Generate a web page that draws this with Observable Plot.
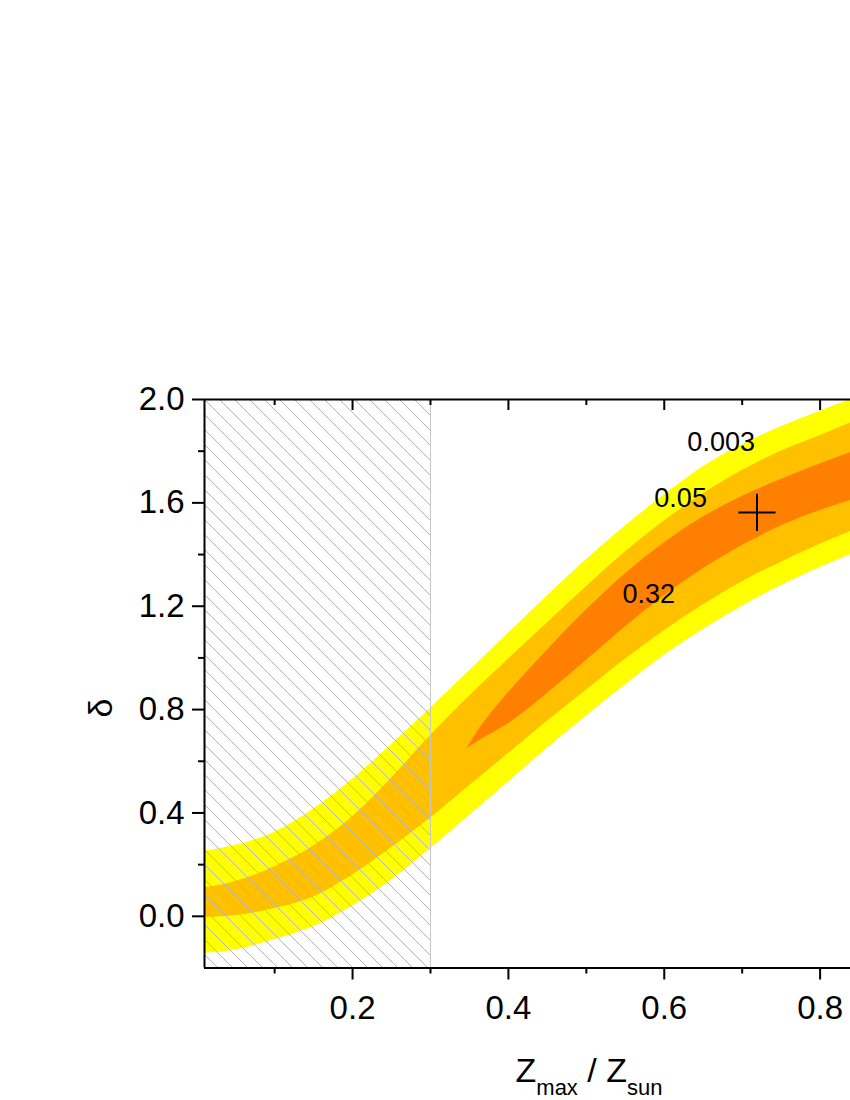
<!DOCTYPE html>
<html><head><meta charset="utf-8">
<script src="https://cdn.jsdelivr.net/npm/d3@7"></script>
<script src="https://cdn.jsdelivr.net/npm/@observablehq/plot@0.6"></script>
<style>
body{margin:0;background:#fff;overflow:hidden}
svg{display:block}
</style>
</head><body><div id="chart"></div>
<script>
// ---- axes ----
const xDomain = [0.01, 0.839];
const yDomain = [-0.2, 2.0];
const xMajorTicks = [0.2, 0.4, 0.6, 0.8];
const xMinorTicks = [0.1, 0.3, 0.5, 0.7];
const yMajorTicks = [0.0, 0.4, 0.8, 1.2, 1.6, 2.0];
const yMinorTicks = [0.2, 0.6, 1.0, 1.4, 1.8];
const excludedUpTo = 0.3;

// ---- confidence bands (outer two levels) ----
const bandX        = [0.01, 0.05, 0.10, 0.15, 0.20, 0.25, 0.30, 0.35, 0.40, 0.45, 0.50, 0.55, 0.60, 0.65, 0.70, 0.75, 0.80, 0.84];
const yellowTop    = [0.252, 0.275, 0.325, 0.415, 0.530, 0.665, 0.805, 0.950, 1.095, 1.240, 1.380, 1.510, 1.630, 1.740, 1.825, 1.895, 1.955, 2.000];
const orangeTop    = [0.110, 0.135, 0.192, 0.272, 0.385, 0.535, 0.700, 0.852, 0.995, 1.135, 1.275, 1.410, 1.530, 1.635, 1.725, 1.800, 1.860, 1.910];
const orangeBottom = [-0.005, 0.003, 0.030, 0.075, 0.160, 0.265, 0.380, 0.505, 0.630, 0.755, 0.875, 0.995, 1.105, 1.205, 1.295, 1.370, 1.440, 1.490];
const yellowBottom = [-0.143, -0.130, -0.090, -0.040, 0.040, 0.140, 0.262, 0.390, 0.520, 0.650, 0.775, 0.895, 1.010, 1.110, 1.200, 1.280, 1.350, 1.400];

// ---- innermost level (0.32) ----
const coreX      = [0.347, 0.36, 0.40, 0.45, 0.50, 0.55, 0.60, 0.65, 0.70, 0.75, 0.80, 0.84];
const coreTop    = [0.650, 0.712, 0.865, 1.030, 1.185, 1.325, 1.445, 1.545, 1.625, 1.690, 1.750, 1.795];
const coreBottom = [0.650, 0.675, 0.745, 0.862, 0.990, 1.120, 1.240, 1.345, 1.435, 1.510, 1.570, 1.610];

// ---- contour labels and best fit ----
const levelNames = ["0.003", "0.05", "0.32"];
const levelX     = [0.673, 0.621, 0.580];
const levelY     = [1.834, 1.617, 1.246];
const bestX = [0.719];
const bestY = [1.563];

const band = (xs, lo, hi) => xs.map((x, i) => ({x, y1: lo[i], y2: hi[i]}));
const labels = levelNames.map((t, i) => ({t, x: levelX[i], y: levelY[i]}));
const best = bestX.map((x, i) => ({x, y: bestY[i]}));
const font = "Liberation Sans, Arial, Helvetica, sans-serif";
const fmt = d3.format(".1f");
const blank = () => "";

const W = 850, H = 1100, mL = 204, mR = 0, mT = 399, mB = 132.5;

const svg = Plot.plot({
  width: W, height: H,
  marginLeft: mL, marginRight: mR, marginTop: mT, marginBottom: mB,
  style: {fontFamily: font, background: "white", color: "black"},
  x: {domain: xDomain, axis: null},
  y: {domain: yDomain, axis: null},
  marks: [
    Plot.areaY(band(bandX, yellowBottom, yellowTop), {x: "x", y1: "y1", y2: "y2", fill: "#ffff00", curve: "monotone-x", clip: true}),
    Plot.areaY(band(bandX, orangeBottom, orangeTop), {x: "x", y1: "y1", y2: "y2", fill: "#ffc000", curve: "monotone-x", clip: true}),
    Plot.areaY(band(coreX, coreBottom, coreTop), {x: "x", y1: "y1", y2: "y2", fill: "#ff8000", curve: "monotone-x", clip: true}),
    Plot.rect([{x1: xDomain[0], x2: excludedUpTo}], {x1: "x1", x2: "x2", fill: "url(#hatch)"}),
    Plot.ruleX([excludedUpTo], {stroke: "#c8c8c8", strokeWidth: 1}),
    Plot.text(labels, {x: "x", y: "y", text: "t", fontSize: 27, fill: "black", fontFamily: font}),
    Plot.dot(best, {x: "x", y: "y", symbol: "plus", r: 12, stroke: "black", strokeWidth: 2}),
    // axis lines
    Plot.ruleY([yDomain[1]], {stroke: "black", strokeWidth: 2}),
    Plot.ruleY([yDomain[0]], {stroke: "black", strokeWidth: 2}),
    Plot.ruleX([xDomain[0]], {stroke: "black", strokeWidth: 2}),
    // bottom axis
    Plot.axisX(xMajorTicks, {anchor: "bottom", tickSize: 12, tickPadding: 16, strokeWidth: 2, fontSize: 33, tickFormat: fmt, label: null, fontFamily: font}),
    Plot.axisX(xMinorTicks, {anchor: "bottom", tickSize: 6, strokeWidth: 2, tickFormat: blank, label: null}),
    // top axis (inward ticks)
    Plot.tickX(xMajorTicks, {x: d => d, stroke: "black", strokeWidth: 2, insetBottom: H - mT - mB - 11}),
    Plot.tickX(xMinorTicks, {x: d => d, stroke: "black", strokeWidth: 2, insetBottom: H - mT - mB - 6}),
    // left axis
    Plot.axisY(yMajorTicks, {anchor: "left", tickSize: 12, tickPadding: 8, strokeWidth: 2, fontSize: 33, tickFormat: fmt, label: null, fontFamily: font}),
    Plot.axisY(yMinorTicks, {anchor: "left", tickSize: 6, strokeWidth: 2, tickFormat: blank, label: null})
  ]
});

const s = d3.select(svg);
s.insert("defs", ":first-child").html(
  '<pattern id="hatch" patternUnits="userSpaceOnUse" x="0" y="0" width="15" height="15">' +
  '<path d="M-1,-1L16,16M-1,14L1,16M14,-1L16,1" stroke="#b4b4b4" stroke-width="1" fill="none"/></pattern>'
);

// x-axis title with subscripts
const xt = s.append("text")
  .attr("x", 589).attr("y", 1082)
  .attr("text-anchor", "middle")
  .attr("font-family", font).attr("font-size", 34).attr("fill", "black");
xt.append("tspan").text("Z");
xt.append("tspan").attr("font-size", 22).attr("dy", 13).text("max");
xt.append("tspan").attr("dy", -13).text(" / Z");
xt.append("tspan").attr("font-size", 22).attr("dy", 13).text("sun");

// y-axis title
s.append("text")
  .attr("transform", "translate(112,708) rotate(-90)")
  .attr("text-anchor", "middle")
  .attr("font-family", font).attr("font-size", 34).attr("fill", "black")
  .text("δ");

document.getElementById("chart").appendChild(svg);
</script>
</body></html>
